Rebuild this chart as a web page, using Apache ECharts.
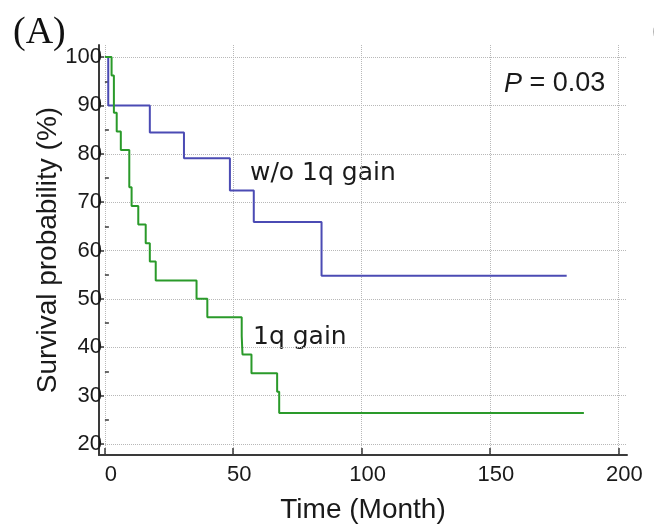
<!DOCTYPE html>
<html>
<head>
<meta charset="utf-8">
<script src="https://cdn.jsdelivr.net/npm/echarts@6/dist/echarts.min.js"></script>
<style>
  html, body { margin: 0; padding: 0; background: #fff; }
  #chart { width: 654px; height: 529px; }
</style>
</head>
<body>
<div id="chart"></div>
<script>
// Kaplan-Meier steps (time in months, survival in %)
const noGainTimes = [0, 1.3, 17.5, 30.8, 48.7, 58.0, 84.4, 179.9];
const noGainSurv = [100, 90.0, 84.4, 79.1, 72.4, 65.9, 54.8, 54.8];
const gainTimes = [0, 2.6, 3.5, 4.6, 6.2, 9.5, 10.4, 13.0, 15.9, 17.5, 19.8, 35.7, 39.9, 53.3, 53.6, 57.1, 67.1, 67.9, 186.6];
const gainSurv = [100, 96.2, 88.5, 84.6, 80.8, 73.1, 69.2, 65.4, 61.5, 57.7, 53.8, 50.0, 46.2, 42.3, 38.5, 34.6, 30.8, 26.4, 26.4];

const xTicks = [0, 50, 100, 150, 200];
const yTicks = [20, 30, 40, 50, 60, 70, 80, 90, 100];
const yMinorTicks = [25, 35, 45, 55, 65, 75, 85, 95];

const toPairs = (xs, ys) => xs.map((x, i) => [x, ys[i]]);

const chart = echarts.init(document.getElementById('chart'));
const font = '"Liberation Sans", Arial, sans-serif';

const option = {
    animation: false,
    grid: { left: 99, right: 27, top: 45, bottom: 71.5 },
    xAxis: {
        type: 'value',
        min: -2.3,
        max: 203.4,
        name: 'Time (Month)',
        nameLocation: 'middle',
        nameGap: 41,
        nameMoveOverlap: false,
        nameTextStyle: { fontFamily: font, fontSize: 28, color: '#1a1a1a' },
        axisLine: { show: true, onZero: false, lineStyle: { color: '#3a3a3a', width: 2 } },
        axisTick: { show: true, inside: true, length: 7, customValues: xTicks, lineStyle: { color: '#3a3a3a', width: 1.5 } },
        axisLabel: { customValues: xTicks, fontFamily: font, fontSize: 22, color: '#1a1a1a', margin: 9, padding: [0, 0, 0, 12] },
        splitLine: { show: true, lineStyle: { color: '#b8b8b8', type: 'dotted', width: 1 } }
    },
    yAxis: [{
        type: 'value',
        min: 17.7,
        max: 102.5,
        name: 'Survival probability (%)',
        nameLocation: 'middle',
        nameGap: 37,
        nameMoveOverlap: false,
        nameTextStyle: { fontFamily: font, fontSize: 28, color: '#1a1a1a' },
        axisLine: { show: true, onZero: false, lineStyle: { color: '#3a3a3a', width: 2 } },
        axisTick: { show: true, inside: true, length: 5, customValues: yTicks, lineStyle: { color: '#3a3a3a', width: 1.5 } },
        axisLabel: { customValues: yTicks, fontFamily: font, fontSize: 22, color: '#1a1a1a', margin: -3 },
        splitLine: { show: true, lineStyle: { color: '#b8b8b8', type: 'dotted', width: 1 } }
    }, {
        type: 'value',
        position: 'left',
        min: 17.7,
        max: 102.5,
        axisLine: { show: false },
        axisTick: { show: true, inside: true, length: 4, customValues: yMinorTicks, lineStyle: { color: '#3a3a3a', width: 1.5 } },
        axisLabel: { show: false },
        splitLine: { show: false }
    }],
    series: [{
        name: 'w/o 1q gain',
        type: 'line',
        step: 'end',
        symbol: 'none',
        lineStyle: { color: '#4b4bb4', width: 2 },
        data: toPairs(noGainTimes, noGainSurv)
    }, {
        name: '1q gain',
        type: 'line',
        step: 'end',
        symbol: 'none',
        lineStyle: { color: '#2a9a2a', width: 2 },
        data: toPairs(gainTimes, gainSurv)
    }],
    graphic: [
        { type: 'text', left: 13, top: 14, style: { text: '(A)', font: '38px "Liberation Serif", "Times New Roman", serif', fill: '#111' } },
        { type: 'text', left: 652, top: 12, style: { text: '(B)', font: '38px "Liberation Serif", "Times New Roman", serif', fill: '#111' } },
        { type: 'text', x: 250, y: 173, style: { text: 'w/o 1q gain', font: '25px "DejaVu Sans", sans-serif', fill: '#1a1a1a', verticalAlign: 'middle' } },
        { type: 'text', x: 253, y: 337, style: { text: '1q gain', font: '25px "DejaVu Sans", sans-serif', fill: '#1a1a1a', verticalAlign: 'middle' } },
        {
            type: 'text', x: 504, y: 84,
            style: {
                text: '{i|P} = 0.03',
                font: '27px "Liberation Sans", Arial, sans-serif',
                fill: '#1a1a1a',
                verticalAlign: 'middle',
                rich: { i: { fontStyle: 'italic', fontFamily: '"Liberation Sans", Arial, sans-serif', fontSize: 27, fill: '#1a1a1a' } }
            }
        }
    ]
};

chart.setOption(option);
</script>
</body>
</html>
